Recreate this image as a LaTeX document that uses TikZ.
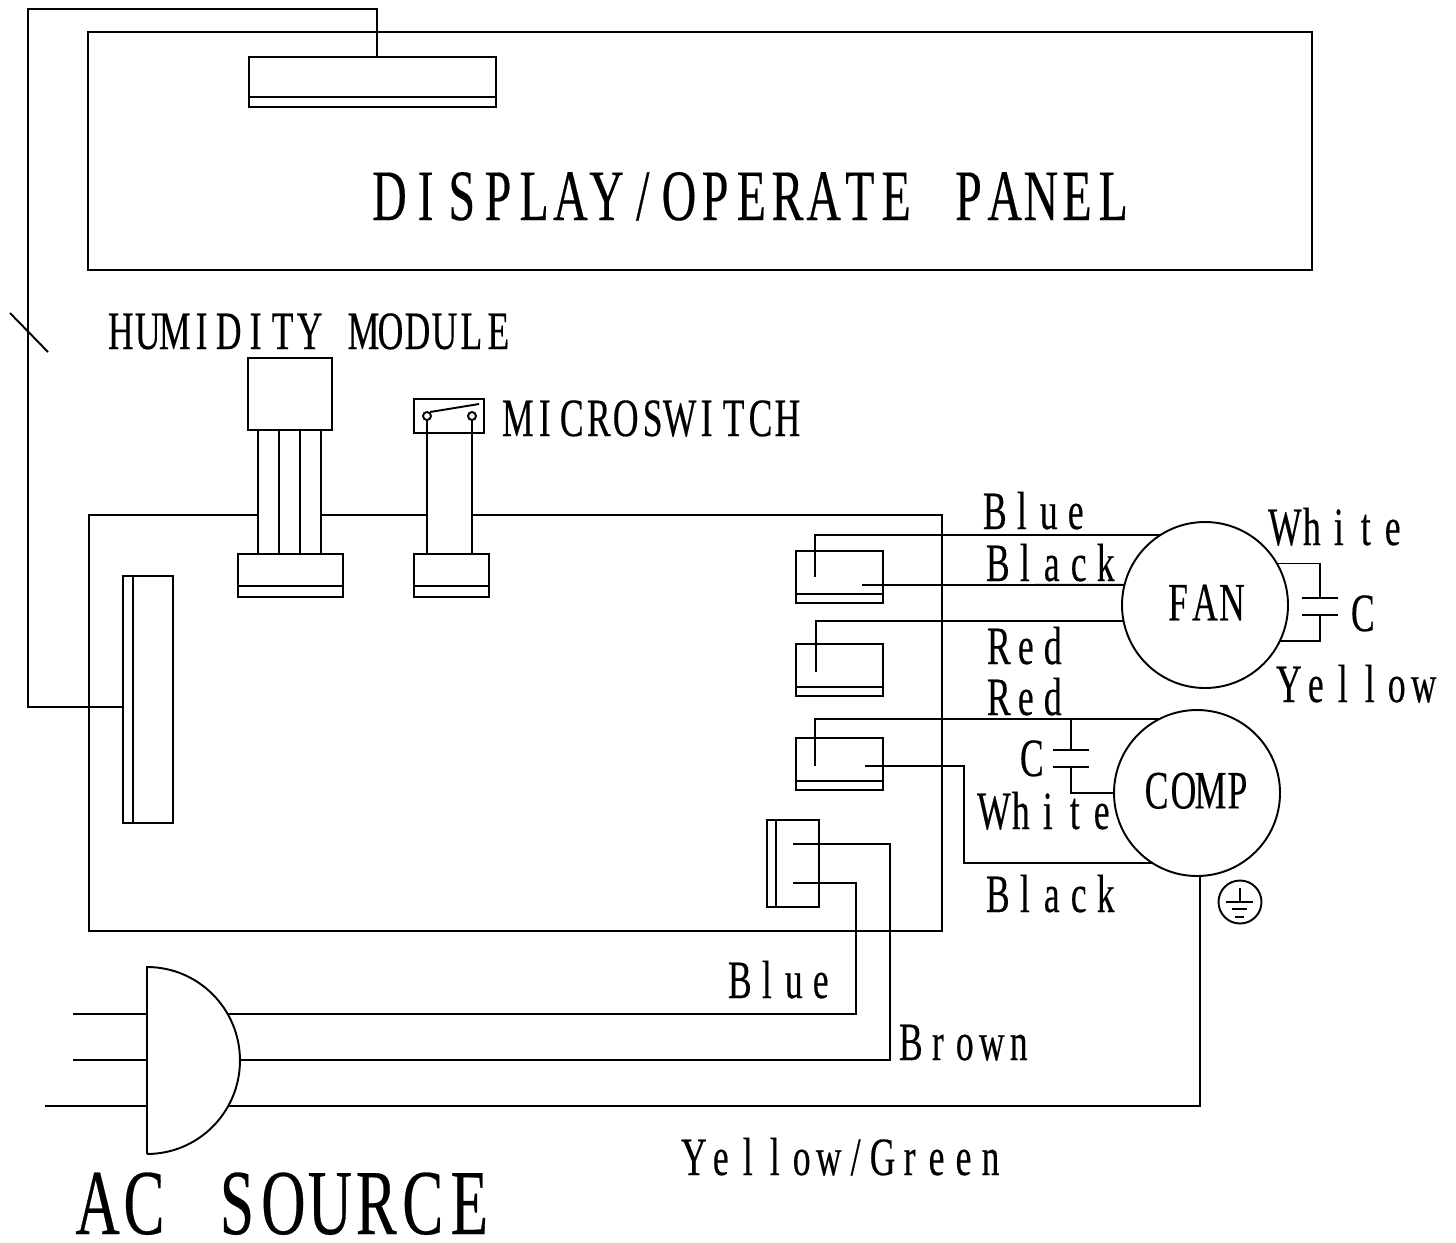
\documentclass[tikz,border=0pt]{standalone}
\usepackage{fontspec}
\setmainfont{Liberation Serif}[FakeStretch=0.66,FakeBold=0.3]
\usepackage{tikz}
\usetikzlibrary{calc}
\makeatletter
\newcommand{\mono}[1]{\@tfor\mono@char:=#1\do{\makebox[.5em][c]{\mono@char}}}
\makeatother
\tikzset{
  wire/.style={line width=1.1pt},
  conbox/.style 2 args={draw,line width=1.1pt,anchor=north west,inner sep=0,outer sep=0,minimum width=#1*0.02cm,minimum height=#2*0.02cm},
  motor/.style={draw,circle,line width=1.1pt,inner sep=0,outer sep=0,minimum size=166*0.02cm,text depth=0.1cm,font=\fontsize{30.7}{36}\selectfont},
  wirelabel/.style={anchor=base west,inner sep=0,font=\fontsize{30.7}{36}\selectfont},
  biglabel/.style={anchor=base west,inner sep=0,font=\fontsize{41.2}{48}\selectfont},
  hugelabel/.style={anchor=base west,inner sep=0,font=\fontsize{52.9}{60}\selectfont}
}

\begin{document}
\begin{tikzpicture}[x=0.02cm,y=-0.02cm]
    \useasboundingbox (0,0) rectangle (1456,1242);
    \node[conbox={1224}{238}] (panel) at (88,32) {};
    \node[biglabel] (paneltext) at (371,220) {\mono{DISPLAY/OPERATE~PANEL}};
    \node[conbox={247}{50}] (panelcon) at (249,57) {};
    \draw[wire] (panelcon.south west) ++(0,-10) -- ++(247,0);
    \node[conbox={50}{247}] (maincon) at (123,576) {};
    \draw[wire] (maincon.north west) ++(10,0) -- ++(0,247);
    \coordinate (panelwire) at (377,57);
    \coordinate (mainwire) at (123,707);
    \draw[wire] (panelwire) -- (377,9) -- (28,9) -- (28,707) -- (mainwire);
    \coordinate (slasha) at (10,313);
    \coordinate (slashb) at (48,352);
    \draw[wire] (slasha) -- (slashb);
    \draw[wire] (258,515) -- (89,515) -- (89,931) -- (942,931) -- (942,515) -- (472,515);
    \draw[wire] (321,515) -- (427,515);
    \node[wirelabel] (humtext) at (107,349) {\mono{HUMIDITY~MODULE}};
    \node[conbox={84}{72}] (hum) at (248,358) {};
    \node[conbox={105}{43}] (humcon) at (238,554) {};
    \draw[wire] (humcon.south west) ++(0,-11) -- ++(105,0);
    \foreach \wx in {258,279,300,321} {
        \draw[wire] (\wx,430) -- (\wx,554);
    }
    \node[wirelabel] (microtext) at (504,436) {\mono{MICROSWITCH}};
    \node[conbox={70}{34}] (micro) at (414,399) {};
    \node[conbox={75}{43}] (microcon) at (414,554) {};
    \draw[wire] (microcon.south west) ++(0,-11) -- ++(75,0);
    \foreach \wx in {427,472} {
        \draw[wire,fill=white] (\wx,416) circle[radius=0.08cm];
        \draw[wire] (\wx,420) -- (\wx,554);
    }
    \draw[wire] (430,412) -- (479,404);
    \node[motor] (fan) at (1205,605) {\mono{FAN}};
    \node[motor] (comp) at (1197,793) {\mono{COMP}};
    \node[conbox={87}{52}] (fancon) at (796,551) {};
    \node[conbox={87}{52}] (redcon) at (796,644) {};
    \node[conbox={87}{52}] (compcon) at (796,738) {};
    \foreach \boxname in {fancon,redcon,compcon} {
        \draw[wire] (\boxname.south west) ++(0,-9) -- ++(87,0);
    }
    \node[conbox={52}{87}] (powercon) at (767,820) {};
    \draw[wire] (powercon.north west) ++(9,0) -- ++(0,87);
    \coordinate (fanblue) at (815,577);
    \coordinate (fanblack) at (862,585);
    \coordinate (fanred) at (816,672);
    \coordinate (compred) at (815,766);
    \coordinate (compblack) at (865,766);
    \draw[wire] (fanblue) |- (fan.123);
    \draw[wire] (fanblack) -- (fan.166);
    \draw[wire] (fanred) |- (fan.191);
    \draw[wire] (compred) |- (comp.117);
    \draw[wire] (compblack) -- (964,766) |- (comp.237.5);
    \node[wirelabel] (bluetext) at (981,529) {\mono{Blue}};
    \node[wirelabel] (blacktext) at (984,581) {\mono{Black}};
    \node[wirelabel] (redtext) at (985,664) {\mono{Red}};
    \node[wirelabel] (redtextb) at (985,715) {\mono{Red}};
    \node[wirelabel] (ctext) at (1018,776) {\mono{C}};
    \node[wirelabel] (whitetext) at (980,829) {\mono{White}};
    \node[wirelabel] (blacktextb) at (984,912) {\mono{Black}};
    \coordinate (compcap) at (1071,719);
    \draw[wire] (compcap) -- (1071,750);
    \draw[wire] (1053,750) -- (1089,750);
    \draw[wire] (1053,767) -- (1089,767);
    \draw[wire] (1071,767) |- (comp.180);
    \draw[wire] (fan.30.6) -| (1320,598);
    \draw[wire] (1302,598) -- (1338,598);
    \draw[wire] (1302,615) -- (1338,615);
    \draw[wire] (1320,615) |- (fan.-26.6);
    \node[wirelabel] (whitetextb) at (1271,545) {\mono{White}};
    \node[wirelabel] (ctextb) at (1349,631) {\mono{C}};
    \node[wirelabel] (yellowtext) at (1275,702) {\mono{Yellow}};
    \node[draw,circle,line width=1.1pt,inner sep=0,minimum size=43*0.02cm] (ground) at (1240,902) {};
    \draw[wire] (1240,888) -- (1240,902);
    \draw[wire] (1226,902) -- (1253,902);
    \draw[wire] (1232,909) -- (1247,909);
    \draw[wire] (1235,917) -- (1244,917);
    \draw[wire] (147,1154) -- (147,967) arc[start angle=90,end angle=-90,x radius=1.86cm,y radius=1.87cm];
    \coordinate (plugblue) at (228,1014);
    \coordinate (plugbrown) at (240,1060);
    \coordinate (plugearth) at (228,1106);
    \coordinate (powerblue) at (793,883);
    \coordinate (powerbrown) at (793,844);
    \draw[wire] (73,1014) -- (147,1014);
    \draw[wire] (73,1060) -- (147,1060);
    \draw[wire] (45,1106) -- (147,1106);
    \draw[wire] (plugblue) -- (856,1014) -- (856,883) -- (powerblue);
    \draw[wire] (plugbrown) -- (890,1060) -- (890,844) -- (powerbrown);
    \draw[wire] (plugearth) -| (comp.272);
    \node[wirelabel] (bluetextb) at (726,998) {\mono{Blue}};
    \node[wirelabel] (browntext) at (897,1060) {\mono{Brown}};
    \node[wirelabel] (greentext) at (680,1175) {\mono{Yellow/Green}};
    \node[hugelabel] (actext) at (74,1234) {\mono{AC~SOURCE}};
\end{tikzpicture}
\end{document}
